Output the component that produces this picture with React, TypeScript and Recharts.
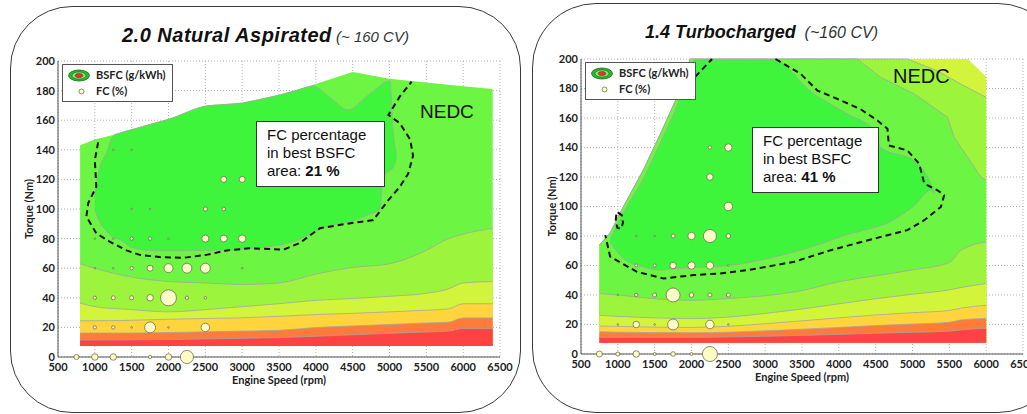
import React from 'react';
import { ComposedChart, Area, Scatter, XAxis, YAxis, ZAxis, CartesianGrid } from 'recharts';

// axes
const rpmTicks = [500, 1000, 1500, 2000, 2500, 3000, 3500, 4000, 4500, 5000, 5500, 6000, 6500];
const torqueTicks = [0, 20, 40, 60, 80, 100, 120, 140, 160, 180, 200];

// ---- 2.0 Natural Aspirated: BSFC contour bands (upper edge of each band, Nm) ----
const naBase = 7.5;
const naOuterRpm = [800, 1000, 1250, 1500, 2000, 2500, 3000, 3500, 4000, 4500, 5000, 5400, 6000, 6400];
const naOuterTop = [143, 147, 150, 154, 161, 170, 172, 177, 184.5, 192.5, 188, 186, 183, 181];
const naBandRpm = [800, 1000, 1500, 2000, 2500, 3000, 3500, 4000, 4500, 5000, 5500, 5800, 6000, 6400];
const naLgTop = [63, 60, 54, 51, 50, 49, 50, 56, 60.5, 63, 72, 80, 83, 87];
const naYgTop = [36.5, 34, 32, 30.5, 32, 34, 36, 38.3, 39.5, 41, 43, 46, 50, 51];
const naYelTop = [24.5, 24.5, 24.8, 25.5, 26, 26.5, 27.5, 28.7, 29.5, 30.5, 31.6, 32.5, 36, 36];
const naOrTop = [16.2, 16.2, 16.2, 16.5, 17, 17.5, 18, 19.9, 21, 22, 23, 23.5, 26.4, 26.4];
const naRedTop = [11.5, 11.5, 11.6, 11.8, 12.2, 12.6, 13.1, 14, 15, 16, 16.9, 17.5, 19.2, 19.2];
// best BSFC island
const naBestRpm = [1000, 1050, 1160, 1250, 1350, 1500, 1750, 2000, 2500, 3000, 3330, 3700, 3965, 4200, 4440, 4700, 4870, 4915, 5006, 5050, 5097];
const naBestLo = [100, 93, 85, 81, 79, 74, 72, 71.7, 72, 73, 74.4, 78, 84, 89, 91, 96, 100, 122, 126, 128, 135];
const naBestHi = [108, 125, 138, 149.5, 151.5, 153.5, 157, 160.5, 169.5, 171.5, 175, 179.5, 183, 175, 167, 176.6, 183, 185, 186.5, 152, 137];
// NEDC operating area (dashed)
const naNedcRpm = [1045, 1000, 1020, 910, 885, 1020, 1200, 1430, 1610, 1880, 2200, 2515, 2790, 3100, 3560, 3780, 4055, 4420, 4780, 4985, 5140, 5255, 5320, 5280, 5140, 4985, 5140, 5300];
const naNedcTq = [145, 133, 115, 104, 95, 83.5, 78, 72, 69, 67.5, 67, 69, 72, 73.5, 72.5, 77, 87, 90, 92.5, 106, 115, 124, 136, 147, 158, 163.5, 176, 186];
// FC share bubbles [rpm, torque, FC %]
const naFc = [
  [750, 0, 0.6], [1000, 0, 1.0], [1250, 0, 1.0], [1750, 0, 0.27], [2000, 0, 1.0], [2250, 0, 4.0],
  [1000, 20, 0.27], [1250, 20, 0.27], [1500, 20, 0.06], [1750, 20, 2.8], [2000, 20, 0.06], [2500, 20, 1.7],
  [1000, 40, 0.27], [1250, 40, 0.38], [1500, 40, 0.38], [1750, 40, 1.0], [2000, 40, 6.0], [2250, 40, 0.27], [2500, 40, 0.16],
  [1000, 60, 0.06], [1250, 60, 0.06], [1500, 60, 0.27], [1750, 60, 0.85], [2000, 60, 1.9], [2250, 60, 2.3], [2500, 60, 2.3], [3000, 60, 0.06],
  [1000, 80, 0.06], [1250, 80, 0.06], [1500, 80, 0.27], [1750, 80, 0.27], [2000, 80, 0.06], [2500, 80, 1.2], [2750, 80, 1.15], [3000, 80, 1.3],
  [1500, 100, 0.06], [1750, 100, 0.06], [2500, 100, 0.4], [2750, 100, 0.3],
  [2750, 120, 0.85], [3000, 120, 0.85],
  [1250, 140, 0.06], [1500, 140, 0.06],
];

// ---- 1.4 Turbocharged ----
const tcBase = 7.7;
const tcOuterRpm = [750, 895, 1076, 1348, 1575, 1802, 1984, 5750, 6000];
const tcOuterTop = [74, 82, 100, 125, 149, 174, 200, 200, 188];
const tcLgUpRpm = [750, 895, 1076, 1348, 1575, 1802, 1984, 4931, 5339, 5656, 6000];
const tcLgUpTop = [74, 82, 100, 125, 149, 174, 200, 200, 192, 183, 174];
const tcMgUpRpm = [750, 895, 1076, 1348, 1575, 1802, 1984, 4250, 4568, 5021, 5476, 5566, 5929, 6000];
const tcMgUpTop = [74, 82, 100, 125, 149, 174, 200, 200, 187.6, 176.4, 160.5, 147, 120, 117.7];
const tcBandRpm = [750, 1000, 1500, 2000, 2500, 3000, 3500, 4000, 4500, 5000, 5500, 5650, 6000];
const tcLgTop = [41, 40, 37.5, 36.4, 37.6, 39.5, 43, 49, 53, 57, 62, 70, 76];
const tcYgTop = [26.2, 25.5, 24.5, 24, 25, 27.5, 30.5, 34, 37.5, 40.5, 43.5, 45, 47.8];
const tcYelTop = [19, 18.7, 18.2, 18, 18.8, 20.5, 22.5, 24.5, 26.5, 28, 29.5, 31, 33];
const tcOrTop = [15.1, 14.8, 14.5, 14.4, 14.8, 15.7, 16.8, 18, 19.3, 20.3, 21.5, 23, 24.1];
const tcRedTop = [11.3, 11.3, 11.3, 11.3, 11.6, 12, 12.6, 13.3, 14, 14.7, 15.5, 16.3, 17.4];
const tcBestRpm = [895, 1076, 1348, 1575, 1802, 1984, 2050, 2256, 2710, 3100, 3656, 4115, 4477, 4568, 5021, 5248, 5293];
const tcBestLo = [76, 64.8, 59, 56.9, 58, 58.5, 58.7, 59, 61.4, 65.5, 73, 81, 85.6, 87, 100.5, 111, 109];
const tcBestHi = [78, 96, 119, 143, 168, 194, 199.5, 199.5, 199.5, 199.5, 176.6, 162.8, 151.6, 140, 131, 115.5, 109.5];
const tcNedcRpm = [3140, 3480, 3710, 4025, 4295, 4525, 4660, 4680, 4930, 5090, 5160, 5340, 5430, 5385, 5160, 4930, 4570, 3890, 3390, 2755, 2390, 2030, 1620, 1260, 895, 830];
const tcNedcTq = [200, 190, 178.6, 172, 166, 158.3, 152.7, 141.4, 138, 129, 115.5, 111, 107.6, 99.7, 90.7, 84, 79.4, 70.4, 62.5, 56.8, 54.6, 53.5, 51.2, 55.7, 66, 80.6];
const tcNedcTopRpm = [2050, 2280];
const tcNedcTopTq = [188, 200];
const tcNedcLoopRpm = [1000, 1055, 1070, 1045, 995, 970, 980, 1000];
const tcNedcLoopTq = [96, 94, 89, 85, 85.5, 90, 95, 96];
const tcFc = [
  [750, 0, 0.85], [1000, 0, 0.38], [1250, 0, 1.0], [1500, 0, 0.2], [1750, 0, 0.5], [2000, 0, 0.2], [2250, 0, 5.3],
  [1000, 20, 0.06], [1250, 20, 1.0], [1500, 20, 0.06], [1750, 20, 2.8], [2250, 20, 1.7], [2500, 20, 0.06],
  [1000, 40, 0.06], [1250, 40, 0.27], [1500, 40, 0.38], [1750, 40, 4.6], [2000, 40, 0.5], [2250, 40, 0.38], [2500, 40, 0.38],
  [1250, 60, 0.2], [1500, 60, 0.2], [1750, 60, 1.0], [2000, 60, 1.3], [2250, 60, 1.3], [2500, 60, 0.06],
  [1250, 80, 0.06], [1500, 80, 0.06], [1750, 80, 0.38], [2000, 80, 1.3], [2250, 80, 4.0], [2500, 80, 0.5],
  [2500, 100, 1.7], [2250, 120, 1.0], [2250, 140, 0.27], [2500, 140, 1.3],
];

const RED = '#ff4242';
const ORANGE = '#ff7b3b';
const YELLOW = '#ffd43c';
const YG = '#d2f53c';
const LG = '#9cf53c';
const MG = '#6cf542';
const BRIGHT = '#3ef53c';
const EDGE = '#a5a5a5';

const rows = (rpm: number[], v: number[]) => rpm.map((r, i) => ({ rpm: r, v: v[i] }));
const ranges = (rpm: number[], lo: number[], hi: number[]) => rpm.map((r, i) => ({ rpm: r, lo: lo[i], hi: hi[i] }));
const pts = (rpm: number[], t: number[]) => rpm.map((r, i) => ({ rpm: r, t: t[i] }));
const bubbles = (list: number[][]) => list.map(([rpm, t, fc]) => ({ rpm, t, fc }));

type Layer = { data: { rpm: number; v: number }[]; color: string; edge: boolean; curve: 'linear' | 'monotone' };

const tickStyle = { fontSize: 11, fontWeight: 700, fill: '#222', fontFamily: 'Lato' };
const font = '"Liberation Sans", Arial, sans-serif';

function Panel(props: {
  left: number; width: number; mTop: number; mBottom: number; mRight: number;
  base: number; layers: Layer[]; best: { rpm: number; lo: number; hi: number }[];
  nedc: { rpm: number; t: number }[][]; fc: { rpm: number; t: number; fc: number }[];
}) {
  const { left, width, mTop, mBottom, mRight, base, layers, best, nedc, fc } = props;
  return (
    <div style={{ position: 'absolute', left, top: 0 }}>
      <ComposedChart width={width} height={414} margin={{ top: mTop, right: mRight, bottom: mBottom, left: 0 }}>
        <CartesianGrid stroke="#b0b0b0" strokeDasharray="1 2" />
        <XAxis type="number" dataKey="rpm" domain={[500, 6500]} ticks={rpmTicks} interval={0} height={30}
          tickSize={4} tickMargin={2} tickLine={false} axisLine={{ stroke: '#555' }} tick={tickStyle}
          label={{ value: 'Engine Speed (rpm)', position: 'insideBottom', offset: 3, fill: '#222', fontSize: 11, fontWeight: 700, fontFamily: 'Lato' }} />
        <YAxis type="number" domain={[0, 200]} ticks={torqueTicks} interval={0} width={58}
          tickSize={2} tickMargin={1} tickLine={false} axisLine={{ stroke: '#555' }} tick={tickStyle}
          label={{ value: 'Torque (Nm)', angle: -90, position: 'center', fill: '#222', fontSize: 11, fontWeight: 700, fontFamily: 'Lato' }} />
        <ZAxis type="number" dataKey="fc" domain={[0, 6]} range={[0, 201]} />
        {layers.map((l, i) => (
          <Area key={i} data={l.data} dataKey="v" baseValue={base} type={l.curve} fill={l.color} fillOpacity={1}
            stroke={l.edge ? EDGE : 'none'} strokeWidth={0.8} dot={false} activeDot={false} isAnimationActive={false} />
        ))}
        <Area data={best} dataKey={(d: any) => [d.lo, d.hi]} type="monotone" fill={BRIGHT} fillOpacity={1}
          stroke={EDGE} strokeWidth={0.8} dot={false} activeDot={false} isAnimationActive={false} />
        {layers.slice(0, 0)}
        {nedc.map((line, i) => (
          <Scatter key={'n' + i} data={line} dataKey="t" shape={() => <g />} lineType="joint"
            line={{ stroke: '#111', strokeWidth: 2, strokeDasharray: '6 4' }} isAnimationActive={false} />
        ))}
        <Scatter data={fc} dataKey="t" fill="#fffbc6" stroke="#6e6e50" strokeWidth={0.8} isAnimationActive={false} />
      </ComposedChart>
    </div>
  );
}

function LegendBox({ left, top }: { left: number; top: number }) {
  return (
    <svg style={{ position: 'absolute', left, top }} width={111} height={38}>
      <rect x={0.5} y={0.5} width={110} height={37} fill="#fff" stroke="#555" />
      <ellipse cx={17} cy={11.5} rx={10.5} ry={5.5} fill="#2fb52f" stroke="#1d6b1d" strokeWidth={0.8} />
      <ellipse cx={17} cy={11.5} rx={7} ry={3.6} fill="#6cf56c" stroke="#1d6b1d" strokeWidth={0.6} />
      <ellipse cx={17} cy={11.5} rx={3.8} ry={2} fill="#f03030" stroke="#7a1a1a" strokeWidth={0.5} />
      <text x={34} y={15} fontSize={11} fontWeight={700} fontFamily="Lato" fill="#222">BSFC (g/kWh)</text>
      <circle cx={19.5} cy={27.5} r={2.5} fill="#fffbc6" stroke="#6e6e50" strokeWidth={0.8} />
      <text x={34} y={31} fontSize={11} fontWeight={700} fontFamily="Lato" fill="#222">FC (%)</text>
    </svg>
  );
}

function Note({ left, top, width, height, value }: { left: number; top: number; width: number; height: number; value: string }) {
  return (
    <div style={{ position: 'absolute', left, top, width, height, boxSizing: 'border-box', border: '1px solid #333',
      background: '#fff', fontFamily: font, fontSize: 15, lineHeight: '18px', color: '#111', paddingLeft: 10, paddingTop: 4 }}>
      <div>FC percentage</div>
      <div>in best BSFC</div>
      <div>area: <b>{value}</b></div>
    </div>
  );
}

export default function App() {
  const naLayers: Layer[] = [
    { data: rows(naOuterRpm, naOuterTop), color: MG, edge: false, curve: 'linear' },
    { data: rows(naBandRpm, naLgTop), color: LG, edge: true, curve: 'monotone' },
    { data: rows(naBandRpm, naYgTop), color: YG, edge: true, curve: 'monotone' },
    { data: rows(naBandRpm, naYelTop), color: YELLOW, edge: true, curve: 'monotone' },
    { data: rows(naBandRpm, naOrTop), color: ORANGE, edge: true, curve: 'monotone' },
    { data: rows(naBandRpm, naRedTop), color: RED, edge: true, curve: 'monotone' },
  ];
  const tcLayers: Layer[] = [
    { data: rows(tcOuterRpm, tcOuterTop), color: YG, edge: false, curve: 'linear' },
    { data: rows(tcLgUpRpm, tcLgUpTop), color: LG, edge: true, curve: 'linear' },
    { data: rows(tcMgUpRpm, tcMgUpTop), color: MG, edge: true, curve: 'linear' },
    { data: rows(tcBandRpm, tcLgTop), color: LG, edge: true, curve: 'monotone' },
    { data: rows(tcBandRpm, tcYgTop), color: YG, edge: true, curve: 'monotone' },
    { data: rows(tcBandRpm, tcYelTop), color: YELLOW, edge: true, curve: 'monotone' },
    { data: rows(tcBandRpm, tcOrTop), color: ORANGE, edge: true, curve: 'monotone' },
    { data: rows(tcBandRpm, tcRedTop), color: RED, edge: true, curve: 'monotone' },
  ];

  return (
    <div style={{ position: 'absolute', left: 0, top: 0, width: 1027, height: 414, overflow: 'hidden', background: '#fff' }}>
      <div style={{ position: 'absolute', left: 10, top: 6, width: 511, height: 407, boxSizing: 'border-box', border: '1.5px solid #3a3a3a', borderRadius: 62 }} />
      <div style={{ position: 'absolute', left: 532, top: 3, width: 530, height: 410, boxSizing: 'border-box', border: '1.5px solid #3a3a3a', borderRadius: 64 }} />

      <div style={{ position: 'absolute', left: 122, top: 25, lineHeight: '20px', whiteSpace: 'nowrap', fontFamily: font, color: '#111' }}>
        <span style={{ fontSize: 20, fontWeight: 700, fontStyle: 'italic', letterSpacing: 0.5 }}>2.0 Natural Aspirated</span>
        <span style={{ fontSize: 15, fontStyle: 'italic', color: '#333' }}> (~ 160 CV)</span>
      </div>
      <div style={{ position: 'absolute', left: 645, top: 22, lineHeight: '20px', whiteSpace: 'nowrap', fontFamily: font, color: '#111' }}>
        <span style={{ fontSize: 18, fontWeight: 700, fontStyle: 'italic' }}>1.4 Turbocharged</span>
        <span style={{ fontSize: 16, fontStyle: 'italic', color: '#333' }}>{'\u00a0 (~160 CV)'}</span>
      </div>

      <Panel left={0} width={520} mTop={61} mBottom={27} mRight={20} base={naBase} layers={naLayers}
        best={ranges(naBestRpm, naBestLo, naBestHi)} nedc={[pts(naNedcRpm, naNedcTq)]} fc={bubbles(naFc)} />
      <Panel left={523} width={504} mTop={59} mBottom={30} mRight={4} base={tcBase} layers={tcLayers}
        best={ranges(tcBestRpm, tcBestLo, tcBestHi)}
        nedc={[pts(tcNedcRpm, tcNedcTq), pts(tcNedcTopRpm, tcNedcTopTq), pts(tcNedcLoopRpm, tcNedcLoopTq)]}
        fc={bubbles(tcFc)} />

      <LegendBox left={62} top={64} />
      <LegendBox left={585} top={62} />

      <Note left={256} top={121} width={129} height={66} value="21 %" />
      <Note left={752} top={127} width={127} height={66} value="41 %" />

      <div style={{ position: 'absolute', left: 420, top: 100, fontFamily: font, fontSize: 19, lineHeight: '24px', color: '#111' }}>NEDC</div>
      <div style={{ position: 'absolute', left: 893, top: 64, fontFamily: font, fontSize: 20, lineHeight: '24px', color: '#111' }}>NEDC</div>
    </div>
  );
}
